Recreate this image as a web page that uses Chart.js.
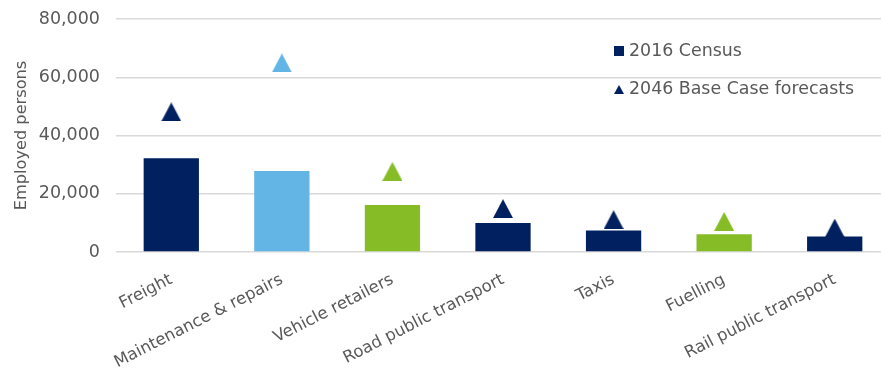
<!DOCTYPE html>
<html>
<head>
<meta charset="utf-8">
<script src="https://cdn.jsdelivr.net/npm/chart.js@4"></script>
<style>
  html, body { margin: 0; padding: 0; background: #ffffff; overflow: hidden; }
  /* the plot runs slightly past the right edge of the frame */
  #wrap { width: 881px; height: 375px; overflow: hidden; position: relative; }
  #chart { display: block; position: absolute; left: 0; top: 0; width: 901px; height: 375px; }
</style>
</head>
<body>
<div id="wrap"><canvas id="chart" width="901" height="375"></canvas></div>
<script>
// Employment by transport-related activity
const categories = ['Freight', 'Maintenance & repairs', 'Vehicle retailers', 'Road public transport', 'Taxis', 'Fuelling', 'Rail public transport'];
const census2016 = [32200, 27800, 16100, 10000, 7400, 6100, 5300];
const forecast2046 = [48100, 64900, 27700, 14900, 11100, 10500, 8200];
const yTicks = [0, 20000, 40000, 60000, 80000];
const seriesNames = ['2016 Census', '2046 Base Case forecasts'];
const axisTitle = 'Employed persons';

const NAVY = '#002060';
const BLUE = '#62B5E5';
const GREEN = '#86BC25';
const TEXT = '#595959';
const GRID = '#d9d9d9';
const FONT = "'DejaVu Sans', sans-serif";

const barColors = [NAVY, BLUE, GREEN, NAVY, NAVY, GREEN, NAVY];

// Triangle marker drawn on a small canvas so it is centred on its value
function triangle(color, w, h) {
  const c = document.createElement('canvas');
  c.width = w; c.height = h;
  const g = c.getContext('2d');
  g.fillStyle = color;
  g.beginPath();
  g.moveTo(w / 2, 0);
  g.lineTo(w, h);
  g.lineTo(0, h);
  g.closePath();
  g.fill();
  return c;
}
const markers = barColors.map(c => triangle(c, 20, 19));

// Legend drawn inside the plot area, stacked vertically
const insideLegend = {
  id: 'insideLegend',
  afterDraw(chart) {
    const ctx = chart.ctx;
    ctx.save();
    ctx.font = '17.4px ' + FONT;
    ctx.textBaseline = 'middle';
    ctx.textAlign = 'left';
    const x = 614;
    // square for the census bars
    ctx.fillStyle = NAVY;
    ctx.fillRect(x, 46, 10, 10);
    ctx.fillStyle = TEXT;
    ctx.fillText(seriesNames[0], x + 15, 51);
    // triangle for the forecasts
    ctx.fillStyle = NAVY;
    ctx.beginPath();
    ctx.moveTo(x + 5, 85);
    ctx.lineTo(x + 10, 94);
    ctx.lineTo(x, 94);
    ctx.closePath();
    ctx.fill();
    ctx.fillStyle = TEXT;
    ctx.fillText(seriesNames[1], x + 15, 89);
    ctx.restore();
  }
};

new Chart(document.getElementById('chart'), {
  data: {
    labels: categories,
    datasets: [
      {
        type: 'line',
        label: seriesNames[1],
        data: forecast2046,
        showLine: false,
        pointStyle: markers,
        pointRadius: 10,
        pointHoverRadius: 10,
        order: 0
      },
      {
        type: 'bar',
        label: seriesNames[0],
        data: census2016,
        backgroundColor: barColors,
        barPercentage: 0.5,
        categoryPercentage: 1,
        order: 1
      }
    ]
  },
  options: {
    responsive: false,
    maintainAspectRatio: false,
    animation: false,
    layout: { padding: { top: 19, right: 0, bottom: 0, left: 0 } },
    plugins: {
      legend: { display: false },
      tooltip: { enabled: false }
    },
    scales: {
      x: {
        grid: { display: false },
        border: { display: false },
        ticks: {
          color: TEXT,
          font: { family: FONT, size: 16.5 },
          maxRotation: 27,
          minRotation: 27,
          padding: 10
        },
        afterFit(scale) {
          scale.height = 123;
          scale.paddingLeft = 0;
          scale.paddingRight = 0;
        }
      },
      y: {
        min: 0,
        max: 80000,
        afterBuildTicks(scale) { scale.ticks = yTicks.map(v => ({ value: v })); },
        grid: { color: GRID, lineWidth: 1.5, drawTicks: false },
        border: { display: false },
        ticks: {
          color: TEXT,
          font: { family: FONT, size: 17.5 },
          padding: 16,
          callback: v => v.toLocaleString('en-US')
        },
        title: {
          display: true,
          text: axisTitle,
          color: TEXT,
          font: { family: FONT, size: 16.2 },
          padding: { top: 12, bottom: 4 }
        },
        afterFit(scale) {
          scale.width = 116;
          scale.paddingTop = 0;
          scale.paddingBottom = 0;
        }
      }
    }
  },
  plugins: [insideLegend]
});
</script>
</body>
</html>
